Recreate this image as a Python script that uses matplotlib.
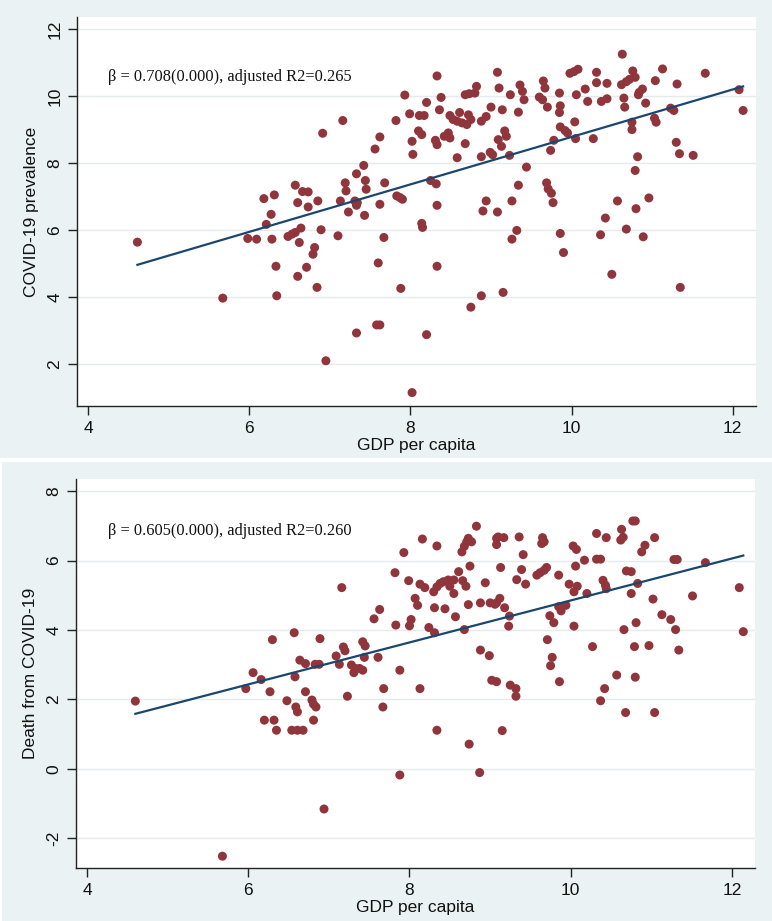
"""
Dois graficos de dispersao estilo Stata: PIB per capita contra prevalencia
e contra mortes por COVID-19, com reta de ajuste linear.
"""

import matplotlib

matplotlib.use("Agg")
import matplotlib.pyplot as plt  # noqa: E402
from matplotlib.patches import Rectangle  # noqa: E402
import numpy as np  # noqa: E402

BG = "#EAF2F3"
DOT = "#90353B"
LINE = "#1A476F"
GRID = "#E3EBEE"

# painel de cima: PIB per capita x prevalencia
gdp_top = [
    4.61, 5.67, 5.98, 6.09, 6.28, 6.48, 6.53, 6.57, 6.64, 6.62, 6.89, 7.10, 6.81, 6.79,
    7.67, 8.14, 8.15, 6.33, 6.71, 6.60, 7.60, 8.33, 6.84, 7.88, 6.34, 7.58, 7.62, 6.95,
    7.33, 8.02, 8.20, 6.18, 6.31, 6.57, 6.66, 6.73, 6.60, 6.73, 6.85, 7.13, 7.31, 7.34,
    7.33, 7.23, 7.43, 7.62, 7.83, 7.87, 7.90, 8.33, 6.27, 6.21, 7.16, 6.91, 7.42, 7.33,
    7.44, 7.19, 7.20, 7.45, 7.68, 8.25, 8.32, 7.62, 7.56, 8.03, 8.58, 8.33, 7.93, 8.38,
    8.20, 7.82, 7.99, 8.11, 8.17, 8.36, 8.49, 8.61, 8.68, 8.73, 8.80, 8.82, 8.53, 8.58,
    8.64, 8.70, 8.72, 8.75, 8.10, 8.14, 8.02, 8.31, 8.33, 8.42, 8.47, 8.49, 8.68,
    10.63, 9.08, 9.98, 10.03, 10.08, 10.31, 10.76, 11.13, 11.66, 9.10, 9.36, 9.39, 9.41,
    9.24, 9.65, 9.67, 9.60, 9.64, 9.70, 9.85, 9.86, 9.85, 10.06, 10.17, 10.20, 10.31,
    10.44, 10.37, 10.44, 10.62, 10.68, 10.72, 10.79, 10.65, 10.66, 10.84, 10.88, 10.83,
    10.92, 11.04, 11.31, 8.88, 8.94, 9.00, 9.14, 9.34, 9.17, 9.19, 9.09, 9.13, 8.88,
    8.99, 9.02, 9.23, 9.44, 9.74, 9.78, 9.86, 9.92, 9.95, 10.04, 10.05, 10.27, 10.75,
    10.75, 11.03, 11.05, 11.23, 11.27, 12.08, 12.13, 11.30, 11.34, 11.51, 10.82, 10.79,
    9.34, 9.69, 9.71, 9.75, 9.77, 8.94, 8.90, 9.08, 9.26, 9.32, 9.26, 9.86, 9.90, 10.57,
    10.42, 10.36, 10.68, 10.80, 10.96, 10.89, 10.50, 11.35, 8.88, 9.15, 8.75,
]
prev_top = [
    5.64, 3.97, 5.75, 5.73, 5.73, 5.81, 5.88, 5.93, 6.06, 5.63, 6.01, 5.83, 5.48, 5.28,
    5.78, 6.20, 6.08, 4.92, 4.89, 4.62, 5.02, 4.92, 4.29, 4.26, 4.04, 3.17, 3.17, 2.10,
    2.93, 1.15, 2.88, 6.94, 7.05, 7.34, 7.15, 7.14, 6.82, 6.69, 6.87, 6.87, 6.87, 6.82,
    6.74, 6.54, 6.44, 6.77, 7.02, 6.97, 6.92, 6.74, 6.47, 6.17, 9.27, 8.89, 7.93, 7.68,
    7.48, 7.41, 7.17, 7.22, 7.41, 7.48, 7.38, 8.78, 8.42, 8.26, 8.16, 10.60, 10.03, 9.96,
    9.81, 9.27, 9.47, 9.42, 9.42, 9.59, 9.42, 9.51, 10.04, 10.07, 10.09, 10.29, 9.30, 9.25,
    9.20, 9.15, 9.44, 9.30, 8.96, 8.85, 8.65, 8.68, 8.55, 8.80, 8.90, 8.75, 8.58,
    11.25, 10.71, 10.68, 10.73, 10.80, 10.71, 10.75, 10.81, 10.68, 10.24, 10.33, 10.14, 9.89,
    10.04, 10.45, 10.24, 9.97, 9.89, 9.67, 10.09, 9.71, 9.51, 10.04, 10.21, 9.84, 10.40,
    10.38, 9.84, 9.92, 10.34, 10.43, 10.50, 10.56, 9.94, 9.67, 10.11, 10.21, 10.04,
    9.79, 10.46, 10.36, 9.25, 9.39, 9.67, 9.59, 9.52, 8.96, 8.80, 8.70, 8.50, 8.19,
    8.32, 8.25, 8.23, 7.88, 8.38, 8.68, 9.08, 8.97, 8.90, 9.23, 8.73, 8.73, 9.22,
    9.00, 9.34, 9.22, 9.64, 9.57, 10.19, 9.57, 8.62, 8.28, 8.23, 8.19, 7.78,
    7.34, 7.41, 7.23, 7.10, 6.82, 6.87, 6.57, 6.54, 6.87, 5.99, 5.73, 5.90, 5.33, 6.87,
    6.36, 5.86, 6.03, 6.64, 6.96, 5.80, 4.68, 4.29, 4.04, 4.14, 3.70,
]

# painel de baixo: PIB per capita x mortes
gdp_bot = [
    4.60, 5.68, 6.94, 8.83, 8.16, 8.34, 7.93, 8.73, 8.71, 8.77, 8.68, 8.65, 7.82, 7.99,
    8.13, 8.19, 8.75, 8.61, 7.16, 8.30, 8.34, 8.38, 8.42, 8.48, 8.55, 8.50, 8.55, 8.66,
    8.70, 8.07, 8.10, 8.31, 8.44, 8.73, 8.57, 7.63, 7.56, 8.02, 8.00, 7.83, 8.24, 8.31,
    8.68, 6.30, 6.57, 6.89, 7.18, 7.20, 7.42, 7.45, 7.44, 7.61, 7.09, 7.13, 6.64, 6.71,
    6.83, 6.88, 7.28, 7.33, 7.31, 7.38, 7.42, 6.58, 7.88, 6.06, 6.16, 5.97, 6.27, 6.71,
    7.68, 8.13, 7.23, 6.48, 6.59, 6.61, 6.79, 6.81, 6.84, 7.67, 6.20, 6.32, 6.35, 6.54,
    6.61, 6.68, 6.81, 8.34, 8.74, 7.88, 8.87,
    10.77, 10.80, 10.63, 10.62, 10.65, 10.32, 10.44, 11.04, 9.08, 9.10, 9.17, 9.08, 9.36,
    9.65, 9.67, 9.64, 9.41, 10.03, 10.07, 10.92, 10.88, 10.32, 10.37, 10.17, 11.28, 11.32,
    11.67, 10.06, 9.13, 9.39, 9.70, 9.67, 9.62, 9.58, 9.33, 9.85, 10.69, 10.75, 8.94,
    9.44, 9.98, 10.08, 10.04, 10.40, 10.43, 10.44, 10.83, 10.20, 10.75, 12.09, 11.51,
    11.02, 8.88, 9.00, 9.06, 9.12, 9.08, 9.18, 9.24, 9.23, 9.85, 9.88, 9.94, 9.74, 9.79,
    10.04, 11.13, 11.24, 11.30, 10.81, 10.66, 12.14, 9.71, 8.88, 8.99, 10.27, 10.79,
    10.97, 11.34, 9.77, 9.75, 9.02, 9.08, 9.25, 9.32, 9.32, 9.86, 10.57, 10.42, 10.37,
    10.80, 10.68, 11.04, 9.15,
]
death_bot = [
    1.95, -2.52, -1.16, 6.99, 6.62, 6.42, 6.23, 6.64, 6.54, 6.54, 6.41, 6.25, 5.65, 5.42,
    5.32, 5.22, 5.84, 5.68, 5.22, 5.10, 5.24, 5.34, 5.39, 5.44, 5.44, 5.26, 5.05, 5.42,
    5.26, 4.91, 4.71, 4.64, 4.61, 4.73, 4.38, 4.59, 4.32, 4.30, 4.12, 4.14, 4.07, 3.92,
    4.01, 3.72, 3.92, 3.75, 3.51, 3.40, 3.66, 3.54, 3.21, 3.21, 3.25, 3.01, 3.13, 3.03,
    3.01, 3.01, 2.99, 2.89, 2.77, 2.89, 2.84, 2.65, 2.84, 2.77, 2.57, 2.31, 2.22, 2.22,
    2.31, 2.31, 2.09, 1.96, 1.78, 1.64, 1.98, 1.86, 1.78, 1.78, 1.40, 1.40, 1.11, 1.11,
    1.11, 1.11, 1.40, 1.11, 0.71, -0.18, -0.11,
    7.14, 7.14, 6.90, 6.59, 6.67, 6.78, 6.66, 6.66, 6.64, 6.68, 6.66, 6.46, 6.68,
    6.66, 6.54, 6.49, 6.17, 6.42, 6.32, 6.44, 6.25, 6.04, 6.04, 6.01, 6.03, 6.03,
    5.94, 5.84, 5.80, 5.74, 5.80, 5.72, 5.65, 5.58, 5.45, 5.58, 5.70, 5.68, 5.36,
    5.32, 5.32, 5.26, 5.10, 5.43, 5.29, 5.19, 5.34, 5.05, 5.05, 5.22, 4.98,
    4.89, 4.78, 4.78, 4.74, 4.91, 4.78, 4.64, 4.40, 4.11, 4.67, 4.55, 4.71, 4.41, 4.21,
    4.11, 4.44, 4.30, 4.01, 4.21, 4.01, 3.95, 3.72, 3.42, 3.26, 3.52, 3.52,
    3.55, 3.42, 3.21, 2.97, 2.55, 2.51, 2.41, 2.31, 2.09, 2.51, 2.70, 2.31, 1.96,
    2.64, 1.62, 1.62, 1.10,
]

# coeficientes das retas ajustadas
beta_top, icpt_top = 0.708, 1.70
beta_bot, icpt_bot = 0.605, -1.20
note_top = "\u03b2 = 0.708(0.000), adjusted R2=0.265"
note_bot = "\u03b2 = 0.605(0.000), adjusted R2=0.260"

x_ticks = [4, 6, 8, 10, 12]
y_ticks_top = [2, 4, 6, 8, 10, 12]
y_ticks_bot = [-2, 0, 2, 4, 6, 8]

plt.rcParams["font.family"] = ["Liberation Sans", "DejaVu Sans"]
plt.rcParams["axes.unicode_minus"] = False  # Stata usa hifen simples no "-2"

W, H = 772, 921


def _panel(ax, x, y, beta, icpt, yticks, ylim, xlim, ylabel, note, note_pos):
    x = np.asarray(x, dtype=float)
    y = np.asarray(y, dtype=float)

    ax.set_facecolor("white")
    ax.scatter(x, y, s=42, color=DOT, edgecolors="none", zorder=3)
    xs = np.array([x.min(), x.max()])
    ax.plot(xs, icpt + beta * xs, color=LINE, linewidth=1.6, zorder=4)

    ax.set_xlim(*xlim)
    ax.set_ylim(*ylim)
    ax.set_xticks(x_ticks)
    ax.set_yticks(yticks)
    ax.grid(True, axis="y", color=GRID, linewidth=1.0, zorder=0)
    ax.set_axisbelow(True)

    for side in ("top", "right"):
        ax.spines[side].set_visible(False)
    for side in ("left", "bottom"):
        ax.spines[side].set_color("#222222")
        ax.spines[side].set_linewidth(1.0)

    ax.tick_params(axis="both", direction="out", length=6.5, width=1.0,
                   color="#222222", labelsize=12.5, labelcolor="#111111", pad=4)
    for lab in ax.get_yticklabels():
        lab.set_rotation(90)
        lab.set_va("center")

    ax.set_ylabel(ylabel, fontsize=12.5, color="#111111", labelpad=6)
    ax.set_xlabel("GDP per capita", fontsize=12.5, color="#111111", labelpad=2)

    ax.text(note_pos[0], note_pos[1], note, transform=ax.transAxes,
            ha="left", va="center", fontsize=11.8, color="#111111",
            family=["Liberation Serif", "DejaVu Serif"])


fig = plt.figure(figsize=(W / 100, H / 100), dpi=100)
fig.patch.set_facecolor("white")

# fundos azulados de cada painel (atras dos eixos)
fig.patches.append(Rectangle((0, 1 - 458 / H), 1, 458 / H, transform=fig.transFigure,
                             facecolor=BG, edgecolor="none", zorder=-5))
fig.patches.append(Rectangle((2 / W, 0), 1 - 2 / W, 1 - 462 / H, transform=fig.transFigure,
                             facecolor=BG, edgecolor="none", zorder=-5))

ax_top = fig.add_axes([77 / W, 1 - 406 / H, (756 - 77) / W, (406 - 17) / H])
ax_bot = fig.add_axes([76 / W, 1 - 868 / H, (755 - 76) / W, (868 - 479) / H])

_panel(ax_top, gdp_top, prev_top, beta_top, icpt_top, y_ticks_top,
       (0.75, 12.36), (3.86, 12.29), "COVID-19 prevalence", note_top, (0.046, 0.846))
_panel(ax_bot, gdp_bot, death_bot, beta_bot, icpt_bot, y_ticks_bot,
       (-2.86, 8.35), (3.864, 12.285), "Death from COVID-19", note_bot, (0.047, 0.866))

fig.savefig("out.png", dpi=100, facecolor=fig.get_facecolor())
plt.close(fig)
